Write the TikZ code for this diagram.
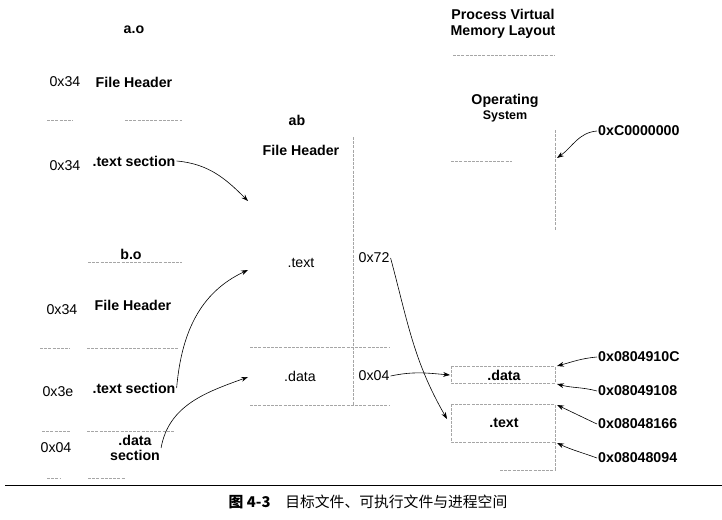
\documentclass[tikz,border=0pt]{standalone}
\usepackage{fontspec}
\setmainfont{Liberation Sans}
\newfontfamily\cjk{Noto Sans CJK SC}
\usetikzlibrary{positioning,arrows.meta}
\tikzset{
  lay lbl/.style={font=\bfseries\fontsize{14.2}{16.5}\selectfont, inner sep=1pt, align=center},
  lay adr/.style={font=\fontsize{14.2}{16.5}\selectfont, inner sep=1pt},
  lay sec/.style={font=\fontsize{14.2}{16.5}\selectfont, inner sep=1pt},
  lay edge/.style={draw=black!35, dash pattern=on 3pt off 1.2pt, line width=0.6pt},
  lay ptr/.style={-{Stealth[length=2.4mm, width=1.7mm]}, line width=0.6pt},
}
\begin{document}
\begin{tikzpicture}[x=1pt, y=-1pt]
  \useasboundingbox (0,0) rectangle (722,519);
  % a.o
  \node[lay lbl] (ao) at (134,30) {a.o};
  \node[lay adr] (aoHdrAdr) at (65,82) {0x34};
  \node[lay lbl] (aoHdr) at (134,82) {File Header};
  \node[lay adr] (aoTxtAdr) at (65,166) {0x34};
  \node[lay lbl] (aoTxt) at (134,161) {.text section};
  \draw[lay edge] (47,120) -- (73,120) (125,120) -- (182,120);
  % b.o
  \node[lay lbl] (bo) at (131,254) {b.o};
  \node[lay adr] (boHdrAdr) at (62,310) {0x34};
  \node[lay lbl] (boHdr) at (133,305) {File Header};
  \node[lay adr] (boTxtAdr) at (58,392) {0x3e};
  \node[lay lbl] (boTxt) at (134,388) {.text section};
  \node[lay adr] (boDatAdr) at (56,448) {0x04};
  \node[lay lbl, font=\bfseries\fontsize{14.2}{15.5}\selectfont] (boDat) at (135,448) {.data\\section};
  \draw[lay edge] (88,262) -- (182,262);
  \draw[lay edge] (40,348) -- (70,348) (87,348) -- (178,348);
  \draw[lay edge] (42,431) -- (70,431) (87,431) -- (175,431);
  \draw[lay edge] (47,478) -- (60,478) (88,478) -- (125,478);
  % ab
  \node[lay lbl] (ab) at (297,120) {ab};
  \node[lay lbl] (abHdr) at (301,150) {File Header};
  \node[lay sec] (abTxt) at (301,263) {.text};
  \node[lay sec] (abDat) at (300,376) {.data};
  \node[lay adr] (abTxtAdr) at (374,258) {0x72};
  \node[lay adr] (abDatAdr) at (374,376) {0x04};
  \draw[lay edge] (353,137) -- (353,405);
  \draw[lay edge] (250,347) -- (390,347) (250,405) -- (390,405);
  \coordinate (abHdrIn) at (248,201);
  \coordinate (abTxtIn) at (248,270);
  \coordinate (abDatIn) at (248,377);
  % process virtual memory layout
  \node[lay lbl] (pvm) at (503,24) {Process Virtual\\Memory Layout};
  \node[lay lbl] (os) at (505,108) {Operating\\[-1pt]{\fontsize{12.5}{14}\selectfont System}};
  \node[lay lbl] (pDat) at (504,375) {.data};
  \node[lay lbl] (pTxt) at (504,423) {.text};
  \draw[lay edge] (453,55) -- (555,55);
  \draw[lay edge] (451,161) -- (512,161);
  \draw[lay edge] (555,130) -- (555,230);
  \draw[lay edge] (451,366) rectangle (555,383);
  \draw[lay edge] (451,404) rectangle (555,442);
  \draw[lay edge] (555,442) -- (555,470) (500,470) -- (555,470);
  \coordinate (osTop) at (557,158);
  \coordinate (datTop) at (557,366);
  \coordinate (datBot) at (557,384);
  \coordinate (txtTop) at (557,405);
  \coordinate (txtBot) at (557,443);
  \coordinate (datIn) at (450,375);
  \coordinate (txtIn) at (447,419);
  % addresses
  \node[lay lbl, anchor=west] (aOs) at (597,131) {0xC0000000};
  \node[lay lbl, anchor=west] (aDatTop) at (597,357) {0x0804910C};
  \node[lay lbl, anchor=west] (aDatBot) at (597,391) {0x08049108};
  \node[lay lbl, anchor=west] (aTxtTop) at (597,424) {0x08048166};
  \node[lay lbl, anchor=west] (aTxtBot) at (597,458) {0x08048094};
  % pointers
  \draw[lay ptr] (aoTxt.east) to[out=-5, in=135] (abHdrIn);
  \draw[lay ptr] (boTxt.east) to[out=85, in=205] (abTxtIn);
  \draw[lay ptr] (boDat.east) to[out=80, in=200] (abDatIn);
  \draw[lay ptr] (abTxtAdr.east) to[out=-75, in=120] (txtIn);
  \draw[lay ptr] (abDatAdr.east) to[out=12, in=175] (datIn);
  \draw[lay ptr] (aOs.west) to[out=185, in=35] (osTop);
  \draw[lay ptr] (aDatTop.west) to[out=185, in=15] (datTop);
  \draw[lay ptr] (aDatBot.west) to[out=165, in=-15] (datBot);
  \draw[lay ptr] (aTxtTop.west) to[out=155, in=-25] (txtTop);
  \draw[lay ptr] (aTxtBot.west) to[out=160, in=-25] (txtBot);
  % caption
  \coordinate (ruleL) at (5,485);
  \coordinate (ruleR) at (722,485);
  \draw[line width=1pt] (ruleL) -- (ruleR);
  \node[font=\cjk\fontsize{14.8}{17}\selectfont] (cap) at (368,502) {{\bfseries 图 4-3}\quad 目标文件、可执行文件与进程空间};
\end{tikzpicture}
\end{document}
